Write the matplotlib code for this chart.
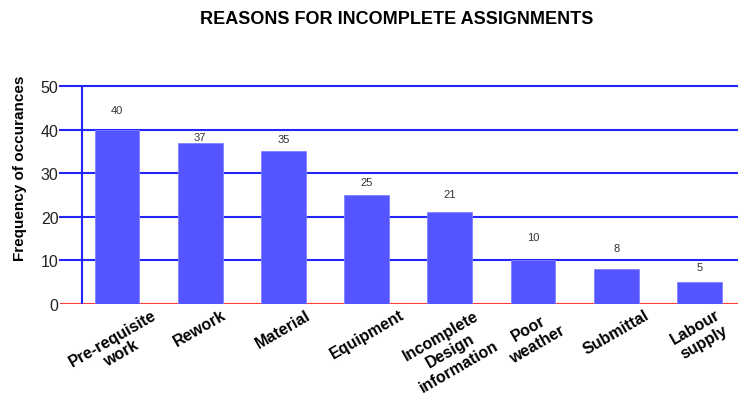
import matplotlib.pyplot as plt
import numpy as np

# Reasons for incomplete assignments and how often each occurred
reasons = ['Pre-requisite\nwork', 'Rework', 'Material', 'Equipment',
           'Incomplete\nDesign\ninformation', 'Poor\nweather', 'Submittal',
           'Labour\nsupply']
counts = [40, 37, 35, 25, 21, 10, 8, 5]
y_ticks = [0, 10, 20, 30, 40, 50]

# how far (points) each count label sits above its bar, kept clear of grid lines
label_lift = [14, 4.3, 8.6, 9.4, 13, 17, 15, 11]

plt.rcParams['font.family'] = ['Liberation Sans', 'DejaVu Sans']

fig = plt.figure(figsize=(7.38, 4.02), dpi=100)
ax = fig.add_axes([0.0813, 0.2413, 0.9187, 0.5423])

x = np.arange(len(reasons))
ax.bar(x, counts, width=0.54, color='#5555ff', edgecolor='#8080ff',
       linewidth=0.6, zorder=3)

# blue grid lines, red baseline, blue vertical axis line
for t in y_ticks[1:]:
    ax.axhline(t, color='#2424ff', linewidth=1.5, zorder=1, clip_on=False)
ax.axhline(0, color='#ff3a3a', linewidth=1.5, zorder=2)
ax.axvline(-0.42, ymin=0, ymax=1, color='#2424ff', linewidth=1.5, zorder=2)

for xi, c, lift in zip(x, counts, label_lift):
    ax.annotate(str(c), (xi, c), xytext=(0, lift), textcoords='offset points',
                ha='center', va='center', fontsize=8, color='#333333')

ax.set_xlim(-0.685, 7.464)
ax.set_ylim(0, 50)
ax.set_yticks(y_ticks)
ax.set_yticklabels([str(t) for t in y_ticks], fontsize=11.5, color='#222222')
ax.tick_params(axis='y', length=0, pad=1)
ax.set_xticks(x)
ax.set_xticklabels(reasons, rotation=30, ha='center', va='top',
                   multialignment='center', fontsize=11.5, fontweight='bold',
                   linespacing=1.2)
ax.tick_params(axis='x', length=0, pad=2)
for s in ax.spines.values():
    s.set_visible(False)

fig.text(0.027, 1 - 168 / 402, 'Frequency of occurances', rotation=90,
         ha='center', va='center', fontsize=11, fontweight='bold')
fig.text(0.538, 1 - 20 / 402, 'REASONS FOR INCOMPLETE ASSIGNMENTS',
         ha='center', va='center', fontsize=13, fontweight='bold')

fig.savefig('out.png', dpi=100)
